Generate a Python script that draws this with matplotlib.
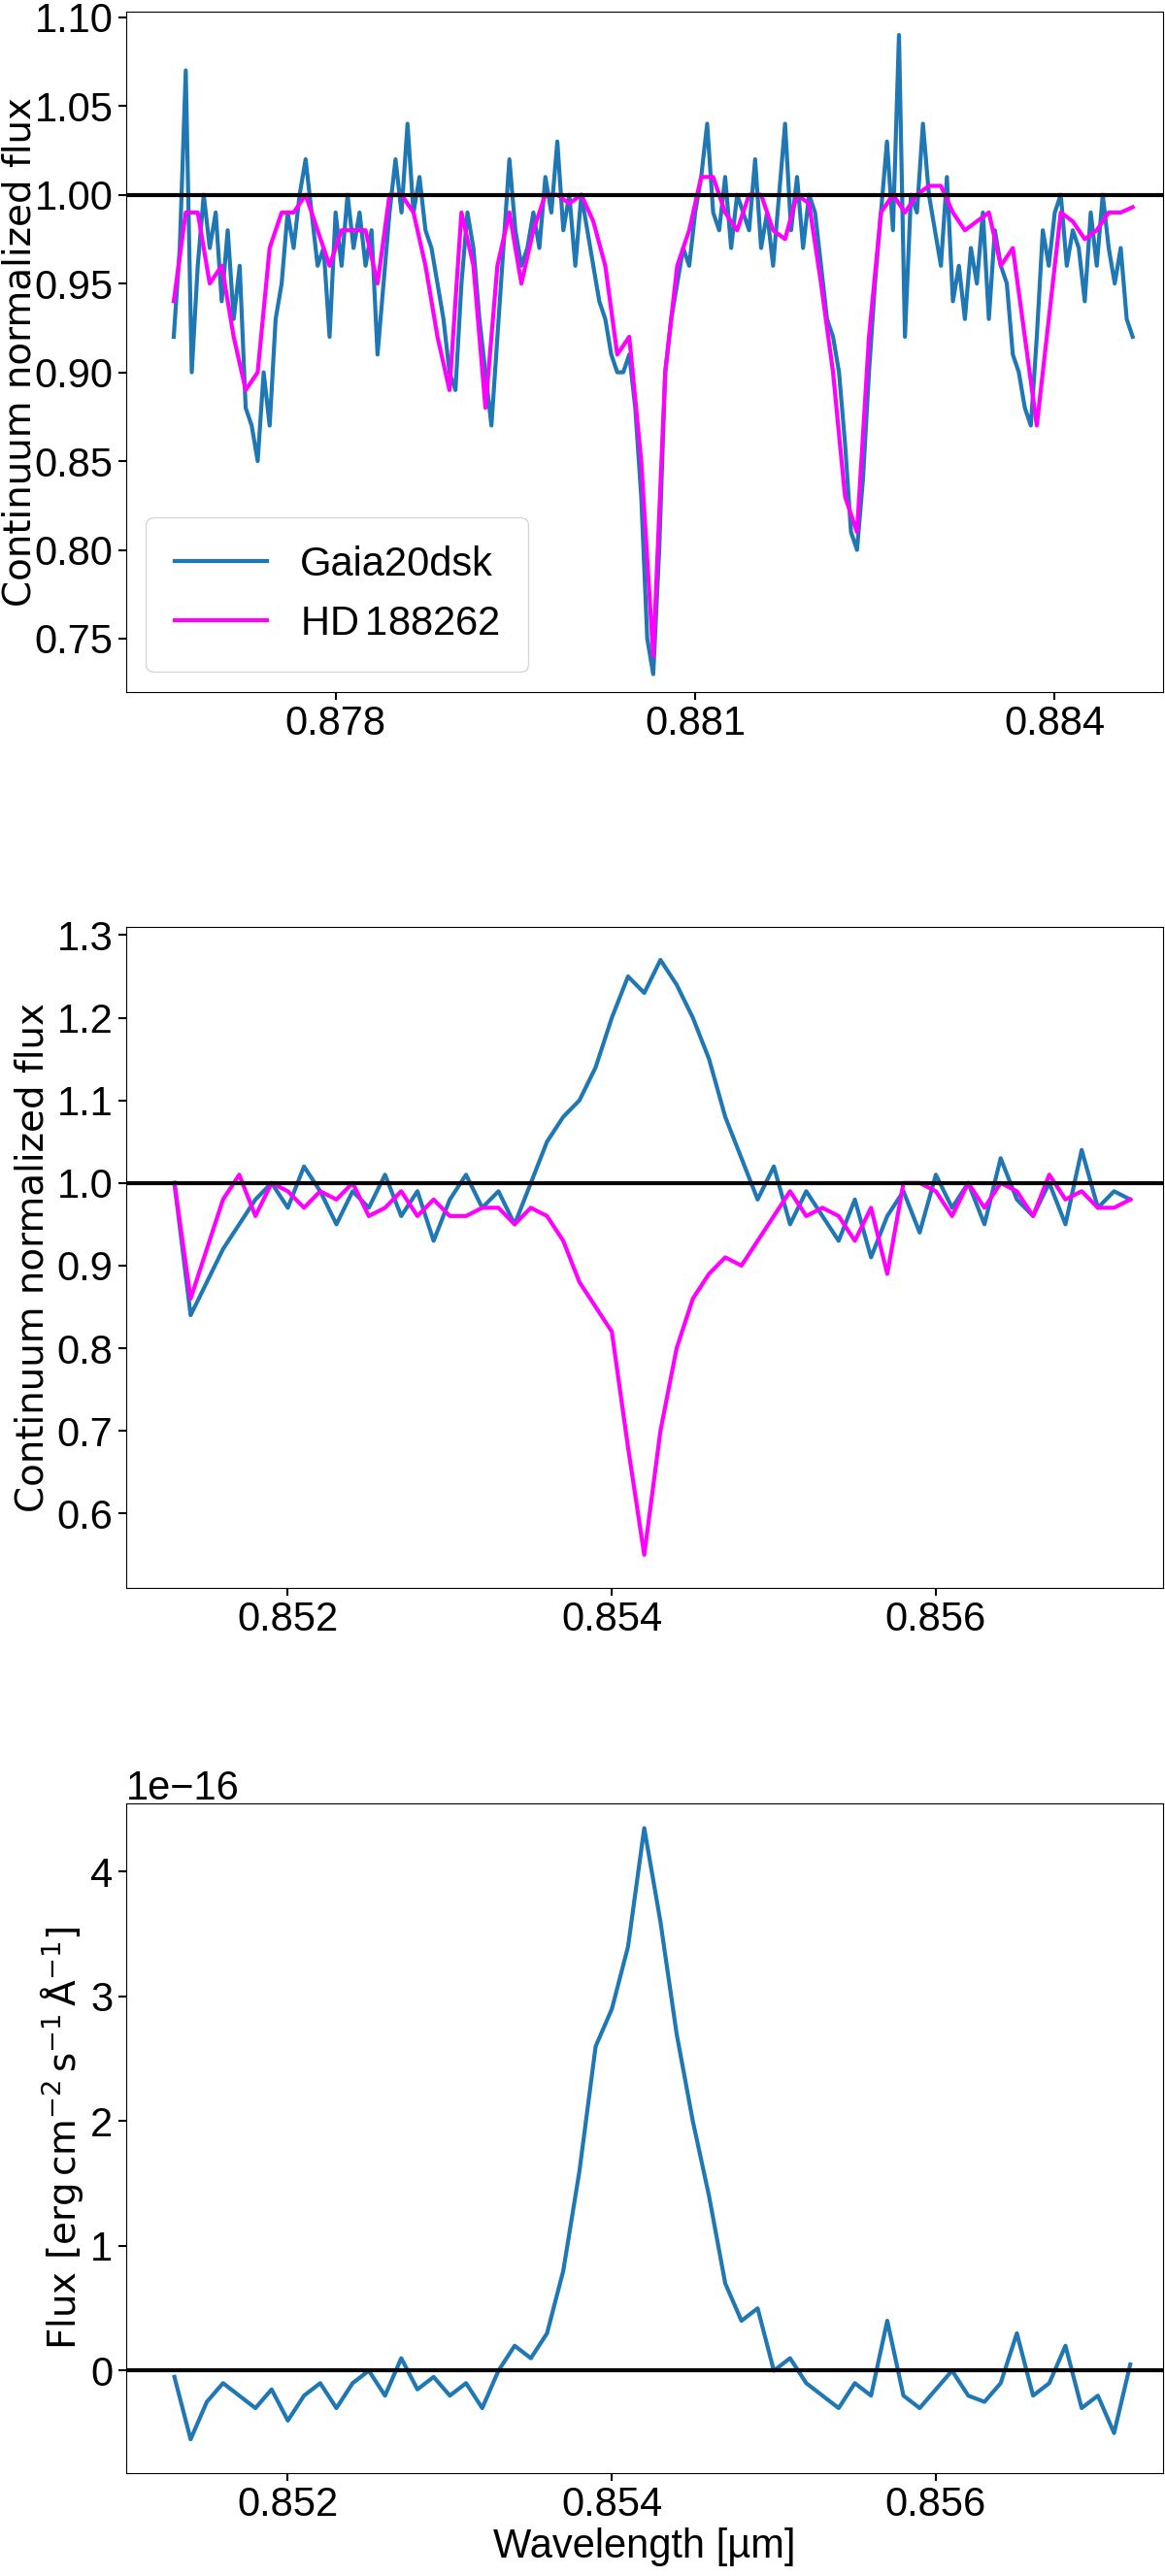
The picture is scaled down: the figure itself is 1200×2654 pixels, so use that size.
import numpy as np
import matplotlib
matplotlib.use("Agg")
import matplotlib.pyplot as plt

tickfont = 'Liberation Sans'

# Panel 1 (Ca II 0.8766-0.8846 region)
p1_x0, p1_dx = 0.87665, 0.00005
p1_blue = [0.92,0.97,1.07,0.90,0.96,1.00,0.97,0.99,0.94,0.98,
           0.93,0.96,0.88,0.87,0.85,0.90,0.87,0.93,0.95,0.99,
           0.97,1.00,1.02,0.99,0.96,0.97,0.92,0.99,0.96,1.00,
           0.97,0.99,0.96,0.98,0.91,0.95,0.99,1.02,0.99,1.04,
           0.99,1.01,0.98,0.97,0.95,0.93,0.90,0.89,0.95,0.99,
           0.97,0.93,0.90,0.87,0.92,0.97,1.02,0.98,0.96,0.97,
           0.99,0.97,1.01,0.99,1.03,0.98,1.00,0.96,1.00,0.98,
           0.96,0.94,0.93,0.91,0.90,0.90,0.91,0.88,0.83,0.75,
           0.73,0.80,0.90,0.93,0.95,0.97,0.96,0.99,1.01,1.04,
           0.99,0.98,1.01,0.97,1.00,0.99,0.98,1.02,0.97,0.99,
           0.96,1.00,1.04,0.98,1.01,0.97,1.00,0.99,0.96,0.93,
           0.92,0.90,0.86,0.81,0.80,0.84,0.90,0.95,0.99,1.03,
           0.98,1.09,0.92,1.00,0.99,1.04,1.00,0.98,0.96,1.01,
           0.94,0.96,0.93,0.97,0.95,0.99,0.93,0.98,0.96,0.95,
           0.91,0.90,0.88,0.87,0.92,0.98,0.96,0.99,1.00,0.96,
           0.98,0.97,0.94,0.99,0.96,1.00,0.97,0.95,0.97,0.93,0.92]
p1_mag_dx = 0.0001
p1_mag = [0.94,0.99,0.99,0.95,0.96,0.92,0.89,0.90,0.97,0.99,
          0.99,1.00,0.98,0.96,0.98,0.98,0.98,0.95,1.00,1.00,
          0.99,0.96,0.92,0.89,0.99,0.96,0.88,0.96,0.99,0.95,
          0.98,1.00,1.00,0.995,1.00,0.985,0.96,0.91,0.92,0.85,
          0.74,0.90,0.96,0.98,1.01,1.01,0.99,0.98,1.00,1.00,
          0.98,0.975,1.00,0.995,0.95,0.90,0.83,0.81,0.92,0.99,
          1.00,0.99,1.00,1.005,1.005,0.99,0.98,0.985,0.99,0.96,
          0.97,0.92,0.87,0.93,0.99,0.985,0.975,0.98,0.99,0.99,0.993]

# Panel 2 / 3 (0.8513-0.8572)
p2_x0, p2_dx = 0.8513, 0.0001
p2_blue = [1.00,0.84,0.88,0.92,0.95,0.98,1.00,0.97,1.02,0.99,
           0.95,0.99,0.97,1.01,0.96,0.99,0.93,0.98,1.01,0.97,
           0.99,0.95,1.00,1.05,1.08,1.10,1.14,1.20,1.25,1.23,
           1.27,1.24,1.20,1.15,1.08,1.03,0.98,1.02,0.95,0.99,
           0.96,0.93,0.98,0.91,0.96,0.99,0.94,1.01,0.97,1.00,
           0.95,1.03,0.98,0.96,1.00,0.95,1.04,0.97,0.99,0.98]
p2_mag = [1.00,0.86,0.92,0.98,1.01,0.96,1.00,0.99,0.97,0.99,
          0.98,1.00,0.96,0.97,0.99,0.96,0.98,0.96,0.96,0.97,
          0.97,0.95,0.97,0.96,0.93,0.88,0.85,0.82,0.68,0.55,
          0.70,0.80,0.86,0.89,0.91,0.90,0.93,0.96,0.99,0.96,
          0.97,0.96,0.93,0.97,0.89,1.00,1.00,0.99,0.96,1.00,
          0.97,1.00,0.99,0.96,1.01,0.98,0.99,0.97,0.97,0.98]
p3_flux = [-0.05,-0.55,-0.25,-0.1,-0.2,-0.3,-0.15,-0.4,-0.2,-0.1,
           -0.3,-0.1,0.0,-0.2,0.1,-0.15,-0.05,-0.2,-0.1,-0.3,
           0.0,0.2,0.1,0.3,0.8,1.6,2.6,2.9,3.4,4.35,
           3.6,2.7,2.0,1.4,0.7,0.4,0.5,0.0,0.1,-0.1,
           -0.2,-0.3,-0.1,-0.2,0.4,-0.2,-0.3,-0.15,0.0,-0.2,
           -0.25,-0.1,0.3,-0.2,-0.1,0.2,-0.3,-0.2,-0.5,0.05]

blue = '#1f77b4'
mag = '#ff00ff'
fig = plt.figure(figsize=(12, 26.54), dpi=100)
ax1 = fig.add_axes([0.108, 0.7314, 0.89, 0.264])
ax2 = fig.add_axes([0.108, 0.3836, 0.89, 0.2566])
ax3 = fig.add_axes([0.108, 0.040, 0.89, 0.260])

x1 = p1_x0 + p1_dx*np.arange(len(p1_blue))
x1m = p1_x0 + p1_mag_dx*np.arange(len(p1_mag))
ax1.plot(x1, p1_blue, color=blue, lw=3, label='Gaia20dsk')
ax1.plot(x1m, p1_mag, color=mag, lw=3, label='HD$\\,$188262')
ax1.axhline(1.0, color='black', lw=3)
ax1.set_xlim(0.87625, 0.88490)
ax1.set_ylim(0.720, 1.103)
ax1.set_xticks([0.878, 0.881, 0.884])
ax1.set_yticks([0.75,0.80,0.85,0.90,0.95,1.00,1.05,1.10])
ax1.set_ylabel('Continuum normalized flux', fontsize=28)
ax1.yaxis.set_label_coords(-0.084, 0.5)
leg = ax1.legend(loc='lower left', fontsize=30, borderpad=0.7, handlelength=2.3)
for t in leg.get_texts():
    t.set_fontfamily(tickfont)

x2 = p2_x0 + p2_dx*np.arange(len(p2_blue))
ax2.plot(x2, p2_blue, color=blue, lw=3)
ax2.plot(x2, p2_mag, color=mag, lw=3)
ax2.axhline(1.0, color='black', lw=3)
ax2.set_xlim(0.85100, 0.85740)
ax2.set_ylim(0.51, 1.31)
ax2.set_xticks([0.852, 0.854, 0.856])
ax2.set_yticks([0.6,0.7,0.8,0.9,1.0,1.1,1.2,1.3])
ax2.set_ylabel('Continuum normalized flux', fontsize=28)

ax3.plot(x2, np.array(p3_flux)*1e-16, color=blue, lw=3)
ax3.axhline(0.0, color='black', lw=3)
ax3.set_xlim(0.85100, 0.85740)
ax3.set_ylim(-0.82e-16, 4.55e-16)
ax3.set_xticks([0.852, 0.854, 0.856])
ax3.set_yticks(np.array([0,1,2,3,4])*1e-16)
ax3.set_ylabel(r'Flux [erg$\,$cm$^{-2}\,$s$^{-1}\,\mathrm{\AA}^{-1}$]', fontsize=28)
ax3.set_xlabel('Wavelength [µm]', fontsize=30, family=tickfont, labelpad=2)
ax3.yaxis.get_offset_text().set_fontsize(30)
ax3.yaxis.get_offset_text().set_fontfamily(tickfont)

for ax in (ax1, ax2, ax3):
    ax.tick_params(labelsize=30, width=1.5, length=6)
    for lab in ax.get_xticklabels() + ax.get_yticklabels():
        lab.set_fontfamily(tickfont)

fig.savefig('out.png', dpi=100)
